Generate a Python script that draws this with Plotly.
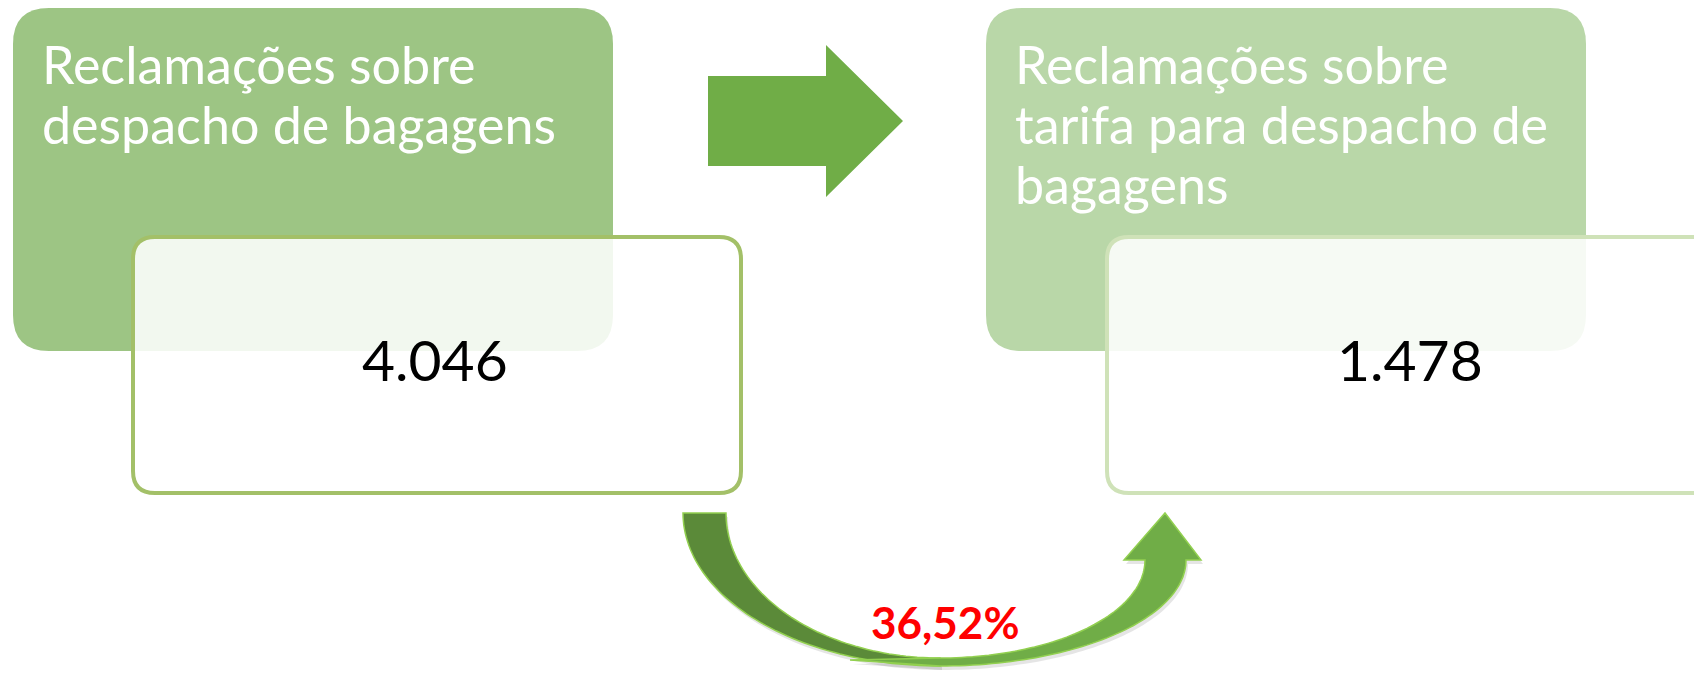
import numpy as np
import plotly.graph_objects as go

# ---- data ----
box_titles = [
    ["Reclamações sobre", "despacho de bagagens"],
    ["Reclamações sobre", "tarifa para despacho de", "bagagens"],
]
box_values = [4046, 1478]
change_pct = [36.52]

W, H = 1694, 673
FONT = "Lato"

fig = go.Figure()
fig.add_trace(go.Scatter(x=[0, W], y=[0, H], mode="markers",
                         marker=dict(opacity=0), hoverinfo="skip", showlegend=False))

def rrect(x0, y0, x1, y1, r):
    return (f"M {x0+r},{y0} L {x1-r},{y0} Q {x1},{y0} {x1},{y0+r} "
            f"L {x1},{y1-r} Q {x1},{y1} {x1-r},{y1} L {x0+r},{y1} "
            f"Q {x0},{y1} {x0},{y1-r} L {x0},{y0+r} Q {x0},{y0} {x0+r},{y0} Z")

def poly(pts):
    return "M " + " L ".join(f"{x:.1f},{y:.1f}" for x, y in pts) + " Z"

shapes = []
big_cols = ["#9DC584", "#B9D7A8"]
border_cols = ["#A3C068", "#CFE2B8"]
big_x = [13, 986]
white_x = [133, 1107]
for i in range(2):
    bx = big_x[i]
    shapes.append(dict(type="path", path=rrect(bx, 8, bx + 600, 351, 36),
                       fillcolor=big_cols[i], line=dict(width=0), layer="above"))
    wx = white_x[i]
    shapes.append(dict(type="path", path=rrect(wx, 237, wx + 608, 493, 22),
                       fillcolor="rgba(255,255,255,0.87)",
                       line=dict(color=border_cols[i], width=4), layer="above"))

# straight arrow
shapes.append(dict(type="path",
                   path=poly([(708, 76), (826, 76), (826, 45), (903, 121),
                              (826, 197), (826, 166), (708, 166)]),
                   fillcolor="#70AD47", line=dict(width=0), layer="above"))

# curved arrow
t = np.linspace(0, np.pi / 2, 60)
outer = [(940 - 257 * np.cos(a), 513 + 153 * np.sin(a)) for a in t]
inner = [(940 - 214 * np.cos(a), 513 + 145 * np.sin(a)) for a in t][::-1]
dark = outer + inner
lo = [(940 + 246 * np.sin(a), 560 + 106 * np.cos(a)) for a in t]
li = [(940 + 205 * np.sin(a), 560 + 98 * np.cos(a)) for a in t][::-1]
light = [(850, 660)] + lo + [(1201, 560), (1165, 513), (1124, 560)] + li

for pts, dy in [(dark, 4), (light, 4)]:
    sp = [(x + 2, y + dy) for x, y in pts]
    shapes.append(dict(type="path", path=poly(sp), fillcolor="rgba(0,0,0,0.10)",
                       line=dict(width=0), layer="above"))
shapes.append(dict(type="path", path=poly(dark), fillcolor="#5B8A39",
                   line=dict(color="#92D050", width=1.5), layer="above"))
shapes.append(dict(type="path", path=poly(light), fillcolor="#70AD47",
                   line=dict(color="#92D050", width=1.5), layer="above"))

annotations = []
text_x = [40, 1013]
for i, lines in enumerate(box_titles):
    for j, line in enumerate(lines):
        annotations.append(dict(x=text_x[i], y=64 + 60 * j, text=line,
                                xanchor="left", yanchor="middle", showarrow=False,
                                font=dict(family=FONT, size=52, color="white")))
val_x = [435, 1410]
for i, v in enumerate(box_values):
    annotations.append(dict(x=val_x[i], y=359, text=f"{v:,}".replace(",", "."),
                            xanchor="center", yanchor="middle", showarrow=False,
                            font=dict(family=FONT, size=57, color="black")))
annotations.append(dict(x=945, y=622, text=f"<b>{change_pct[0]:.2f}%</b>".replace(".", ","),
                        xanchor="center", yanchor="middle", showarrow=False,
                        font=dict(family=FONT, size=44, color="#FF0000")))

fig.update_layout(
    width=W, height=H, margin=dict(l=0, r=0, t=0, b=0),
    paper_bgcolor="white", plot_bgcolor="white",
    xaxis=dict(range=[0, W], visible=False, fixedrange=True),
    yaxis=dict(range=[H, 0], visible=False, fixedrange=True),
    shapes=shapes, annotations=annotations, showlegend=False,
)
fig.write_html("out.html", config={"displayModeBar": False},
               post_script="document.body.style.margin='0';")
